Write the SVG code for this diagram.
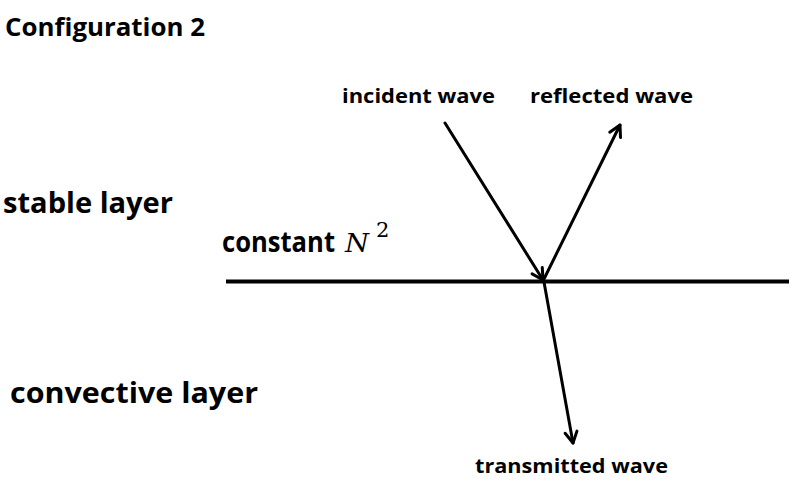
<svg xmlns="http://www.w3.org/2000/svg" width="800" height="500" viewBox="0 0 800 500">
<style>
text{font-family:"Open Sans","Noto Sans","Liberation Sans",sans-serif;font-weight:bold;fill:#000}
text.m{font-family:"DejaVu Serif","Liberation Serif",serif;font-weight:normal}
.ln{stroke:#000;stroke-width:3;fill:none;stroke-linecap:round}
</style>
<defs>
<marker id="ah" markerWidth="14" markerHeight="14" refX="12" refY="7" orient="auto" markerUnits="userSpaceOnUse" overflow="visible">
<path d="M1,1 L12,7 L1,13" fill="none" stroke="#000" stroke-width="3" stroke-linecap="round" stroke-linejoin="round"/>
</marker>
</defs>
<rect width="800" height="500" fill="#fff"/>
<g id="title"><text x="5" y="36" font-size="25" textLength="200" lengthAdjust="spacingAndGlyphs">Configuration 2</text></g>
<g id="stable"><text x="3" y="213" font-size="28" textLength="170" lengthAdjust="spacingAndGlyphs">stable layer</text></g>
<g id="constant"><text x="222" y="252" font-size="28" textLength="113" lengthAdjust="spacingAndGlyphs">constant</text><text class="m" x="345" y="252" font-size="26" font-style="italic" textLength="24" lengthAdjust="spacingAndGlyphs">N</text><text class="m" x="376" y="237" font-size="21">2</text></g>
<g id="convective"><text x="10" y="403" font-size="29" textLength="248" lengthAdjust="spacingAndGlyphs">convective layer</text></g>
<g id="interface"><line x1="226" y1="281.5" x2="789" y2="281.5" stroke="#000" stroke-width="4"/></g>
<g id="incident"><text x="342" y="103" font-size="19" textLength="153" lengthAdjust="spacingAndGlyphs">incident wave</text></g>
<g id="reflected"><text x="530" y="103" font-size="19" textLength="163" lengthAdjust="spacingAndGlyphs">reflected wave</text></g>
<g id="transmitted"><text x="475" y="473" font-size="19" textLength="193" lengthAdjust="spacingAndGlyphs">transmitted wave</text></g>
<g id="connectors">
<line class="ln" x1="445" y1="123" x2="543" y2="280" marker-end="url(#ah)"/>
<line class="ln" x1="543" y1="281" x2="620" y2="125" marker-end="url(#ah)"/>
<line class="ln" x1="544" y1="282" x2="573" y2="443" marker-end="url(#ah)"/>
</g>
</svg>
